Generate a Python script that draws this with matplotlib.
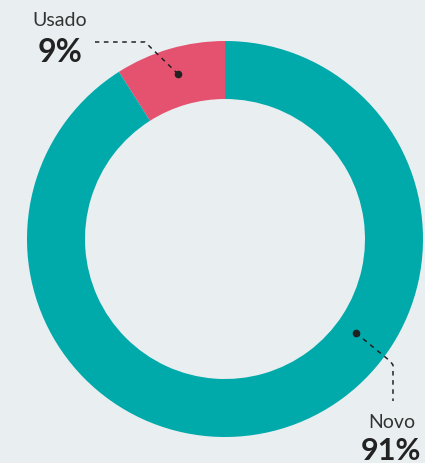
import matplotlib.pyplot as plt

labels = ["Usado", "Novo"]
values = [9, 91]
pct_text = ["9%", "91%"]
colors = ["#e4526f", "#00a9aa"]

W, H = 425, 464
fig = plt.figure(figsize=(W / 100, H / 100), dpi=100)
fig.patch.set_facecolor("#e9eef1")
ax = fig.add_axes([0, 0, 1, 1])

cx, cy = 225, H - 240
ax.pie(values, colors=colors, startangle=90, counterclock=True,
       center=(cx, cy), radius=198, frame=True,
       wedgeprops=dict(width=58, linewidth=0))
ax.set_xlim(0, W)
ax.set_ylim(0, H)
ax.set_aspect("equal")
ax.axis("off")

# leader lines (pixel coords from top)
def yy(v):
    return H - v

ax.plot([178, 145, 95], [yy(75), yy(43), yy(43)], color="#222222", lw=1.1, ls=(0, (3, 3)))
ax.plot([178], [yy(75)], "o", color="#222222", ms=4.5)
ax.plot([356, 390, 393, 393], [yy(334), yy(362), yy(366), yy(402)], color="#222222", lw=1.1, ls=(0, (3, 3)))
ax.plot([356], [yy(334)], "o", color="#222222", ms=4.5)

font = "Lato"
ax.text(60, yy(21), labels[0], ha="center", va="center", fontsize=14, color="#333333", family=font)
ax.text(60, yy(52), pct_text[0], ha="center", va="center", fontsize=23, fontweight="bold", color="#222222", family=font)
ax.text(392, yy(423), labels[1], ha="center", va="center", fontsize=14, color="#333333", family=font)
ax.text(391, yy(451), pct_text[1], ha="center", va="center", fontsize=22, fontweight="bold", color="#222222", family=font)

fig.savefig("out.png", dpi=100, facecolor=fig.get_facecolor())
